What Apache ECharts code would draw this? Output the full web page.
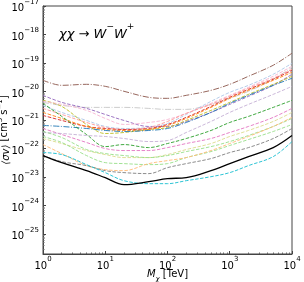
<!DOCTYPE html>
<html><head><meta charset="utf-8">
<script src="https://cdn.jsdelivr.net/npm/echarts@6/dist/echarts.min.js"></script>
<style>html,body{margin:0;padding:0;background:#fff}#c{width:304px;height:282px}</style>
</head><body><div id="c"></div>
<script>
const masses = [1,2,5,10,20,50,100,200,500,1000,2000,5000,10000];
const brown = [2.48e-20,1.65e-20,1.79e-20,1.52e-20,1.02e-20,6.25e-21,5.77e-21,7.35e-21,1.10e-20,1.79e-20,3.43e-20,8.37e-20,2.21e-19];
const lightGray = [4.17e-21,3.27e-21,2.78e-21,2.78e-21,2.78e-21,2.56e-21,2.36e-21,2.36e-21,3.54e-21,5.77e-21,1.02e-20,2.69e-20,7.11e-20];
const purple = [7.35e-21,4.17e-21,2.56e-21,1.57e-21,9.68e-22,5.95e-22,5.95e-22,8.93e-22,1.85e-21,3.54e-21,6.78e-21,1.65e-20,4.04e-20];
const lightBlue = [3.27e-21,1.85e-21,9.68e-22,5.95e-22,5.06e-22,5.48e-22,7.59e-22,1.57e-21,4.52e-21,9.37e-21,1.65e-20,4.04e-20,9.84e-20];
const olive = [4.90e-21,3.01e-21,7.00e-22,3.37e-22,3.66e-22,4.67e-22,5.48e-22,9.68e-22,2.18e-21,4.17e-21,7.96e-21,1.79e-20,3.43e-20];
const orange = [1.85e-21,1.14e-21,5.95e-22,4.67e-22,4.31e-22,4.67e-22,6.46e-22,1.14e-21,2.78e-21,5.77e-21,1.10e-20,2.48e-20,4.74e-20];
const blue = [6.46e-22,5.95e-22,5.06e-22,4.31e-22,3.97e-22,4.31e-22,5.06e-22,8.22e-22,1.85e-21,3.85e-21,7.35e-21,1.65e-20,2.92e-20];
const salmon = [2.56e-21,1.57e-21,8.22e-22,5.48e-22,4.67e-22,5.48e-22,8.93e-22,1.71e-21,3.54e-21,6.78e-21,1.30e-20,2.92e-20,6.05e-20];
const lightPink = [4.52e-21,3.54e-21,2.18e-21,1.14e-21,7.00e-22,8.22e-22,1.05e-21,1.71e-21,3.85e-21,7.35e-21,1.41e-20,3.43e-20,7.71e-20];
const red = [1.45e-21,9.68e-22,5.95e-22,5.06e-22,4.67e-22,5.06e-22,7.00e-22,1.24e-21,3.01e-21,6.25e-21,1.19e-20,2.69e-20,5.57e-20];
const green = [3.85e-21,1.34e-21,3.11e-22,1.17e-22,1.38e-22,1.08e-22,1.50e-22,2.25e-22,4.31e-22,8.22e-22,1.34e-21,2.78e-21,4.90e-21];
const pink = [5.06e-22,3.11e-22,1.63e-22,1.00e-22,8.51e-23,8.51e-23,1.08e-22,1.50e-22,2.25e-22,3.66e-22,5.95e-22,1.24e-21,2.56e-21];
const lightPurple = [3.66e-22,3.37e-22,2.87e-22,2.65e-22,2.25e-22,1.76e-22,1.91e-22,3.66e-22,8.93e-22,1.85e-21,3.54e-21,7.96e-21,1.52e-20];
const lightOlive = [2.25e-22,1.50e-22,8.51e-23,6.15e-23,4.82e-23,4.82e-23,6.15e-23,9.23e-23,1.50e-22,2.65e-22,4.31e-22,8.93e-22,1.85e-21];
const lightGreenA = [3.97e-22,2.44e-22,9.23e-23,6.67e-23,5.68e-23,4.82e-23,5.68e-23,7.83e-23,1.17e-22,1.76e-22,2.87e-22,5.95e-22,1.14e-21];
const lightGreenB = [2.65e-22,1.63e-22,5.68e-23,3.21e-23,2.96e-23,2.73e-23,2.96e-23,4.82e-23,7.83e-23,1.28e-22,2.07e-22,3.97e-22,7.00e-22];
const lightOrange = [1.38e-22,6.67e-23,2.52e-23,1.82e-23,1.68e-23,2.96e-23,3.78e-23,4.82e-23,8.51e-23,1.50e-22,2.65e-22,5.95e-22,1.24e-21];
const gray = [5.68e-23,3.48e-23,2.52e-23,1.68e-23,1.43e-23,1.32e-23,2.14e-23,2.96e-23,4.45e-23,7.23e-23,1.08e-22,2.25e-22,5.06e-22];
const cyan = [7.23e-23,6.15e-23,2.73e-23,1.43e-23,7.46e-24,5.86e-24,5.86e-24,7.46e-24,1.03e-23,1.43e-23,2.52e-23,5.22e-23,1.76e-22];
const combined = [5.68e-23,3.21e-23,1.68e-23,9.53e-24,5.40e-24,6.89e-24,8.79e-24,9.53e-24,1.68e-23,2.96e-23,5.22e-23,1.08e-22,2.87e-22];
const yMin = 2e-26, yMax = 1e-17;

// ECharts rounds tiny numbers to 20 decimals, so the y values are handed to the
// log axis in units of 1e-26 cm^3/s; labels show the true powers of ten.
const Y_UNIT_EXP = 26;
const yUnit = Math.pow(10, Y_UNIT_EXP);

const DASH = [3.5,1.6];
const DASHDOT = [6,1.6,1,1.6];
const lines = [
  ['lightGray', lightGray, '#c7c7c7', DASHDOT],
  ['brown', brown, '#8c564b', DASHDOT],
  ['purple', purple, '#9467bd', DASH],
  ['lightBlue', lightBlue, '#aec7e8', DASH],
  ['olive', olive, '#bcbd22', DASH],
  ['lightPink', lightPink, '#f7b6d2', DASH],
  ['salmon', salmon, '#ff9896', DASH],
  ['red', red, '#d62728', DASH],
  ['orange', orange, '#ff7f0e', DASH],
  ['blue', blue, '#1f77b4', DASHDOT],
  ['green', green, '#2ca02c', DASH],
  ['pink', pink, '#e377c2', DASH],
  ['lightPurple', lightPurple, '#c5b0d5', DASH],
  ['lightOlive', lightOlive, '#dbdb8d', DASH],
  ['lightGreenA', lightGreenA, '#98df8a', DASH],
  ['lightGreenB', lightGreenB, '#98df8a', DASH],
  ['lightOrange', lightOrange, '#ffbb78', DASH],
  ['gray', gray, '#7f7f7f', DASH],
  ['cyan', cyan, '#17becf', DASH]
];

const FONT = 'DejaVu Sans';
function powLabel(v, shift){
  const e = Math.log10(v);
  const r = Math.round(e);
  if (Math.abs(e - r) > 1e-6) return '';
  const ex = r - shift;
  return '{b|10}{s|' + (ex < 0 ? '\u2212' + (-ex) : ex) + '}';
}
const base = {fontFamily: FONT, color: '#000', fontWeight: 'normal'};
const tickRich = {
  b: Object.assign({}, base, {fontSize: 10, lineHeight: 15, verticalAlign: 'bottom'}),
  s: Object.assign({}, base, {fontSize: 7, lineHeight: 8, verticalAlign: 'top'})
};
const series = lines.map(([name, vals, color, dash]) => ({
  name, type: 'line', showSymbol: false, smooth: 0.35, z: 2,
  data: masses.map((m, i) => [m, vals[i] * yUnit]),
  lineStyle: {color, width: 1, type: dash, opacity: 0.9}
}));
series.push({
  name: 'combined', type: 'line', showSymbol: false, smooth: 0.35, z: 3,
  data: masses.map((m, i) => [m, combined[i] * yUnit]),
  lineStyle: {color: '#000', width: 1.3, type: 'solid'}
});

const chart = echarts.init(document.getElementById('c'), null, {renderer: 'canvas'});
chart.setOption({
  animation: false,
  title: {
    text: '{a|χχ → W}{s|\u2212}{a|W}{s|+}', left: 54, top: 17,
    textStyle: Object.assign({}, base, {
      fontSize: 13, fontStyle: 'italic',
      rich: {
        a: Object.assign({}, base, {fontSize: 13, fontStyle: 'italic', lineHeight: 19, verticalAlign: 'bottom'}),
        s: Object.assign({}, base, {fontSize: 9, lineHeight: 10, verticalAlign: 'top'})
      }
    })
  },
  grid: {left: 43, right: 12, top: 6, bottom: 28, containLabel: false, outerBoundsMode: 'none',
         show: true, borderColor: '#444', borderWidth: 1},
  xAxis: {
    type: 'log', logBase: 10, min: 1, max: 10000,
    name: '{m|M}{x|χ}{t| [TeV]}', nameLocation: 'middle', nameGap: 15, nameMoveOverlap: false,
    nameTextStyle: Object.assign({}, base, {
      fontSize: 10,
      rich: {
        m: Object.assign({}, base, {fontSize: 10, fontStyle: 'italic', lineHeight: 14, verticalAlign: 'top'}),
        x: Object.assign({}, base, {fontSize: 7, fontStyle: 'italic', lineHeight: 9, verticalAlign: 'bottom'}),
        t: Object.assign({}, base, {fontSize: 10, lineHeight: 14, verticalAlign: 'top'})
      }
    }),
    axisLine: {show: true, lineStyle: {color: '#444'}},
    axisTick: {show: true, inside: true, length: 3, lineStyle: {color: '#444'}},
    minorTick: {show: true, splitNumber: 9, length: 1.5, lineStyle: {color: '#666'}},
    splitLine: {show: false},
    axisLabel: {margin: 2, formatter: v => powLabel(v, 0), rich: tickRich}
  },
  yAxis: {
    type: 'log', logBase: 10, min: yMin * yUnit, max: yMax * yUnit,
    name: '{i|⟨σv⟩} [cm{s|3} s{s|\u22121}]', nameLocation: 'middle', nameGap: 32, nameMoveOverlap: false,
    nameTextStyle: Object.assign({}, base, {
      fontSize: 10,
      rich: {
        i: Object.assign({}, base, {fontSize: 10, fontStyle: 'italic', lineHeight: 14, verticalAlign: 'bottom'}),
        s: Object.assign({}, base, {fontSize: 7, lineHeight: 8, verticalAlign: 'top'})
      }
    }),
    axisLine: {show: true, lineStyle: {color: '#444'}},
    axisTick: {show: true, inside: true, length: 3, lineStyle: {color: '#444'}},
    minorTick: {show: true, splitNumber: 9, length: 1.5, lineStyle: {color: '#666'}},
    splitLine: {show: false},
    axisLabel: {margin: 4, formatter: v => powLabel(v, Y_UNIT_EXP), rich: tickRich}
  },
  series
});
</script></body></html>
